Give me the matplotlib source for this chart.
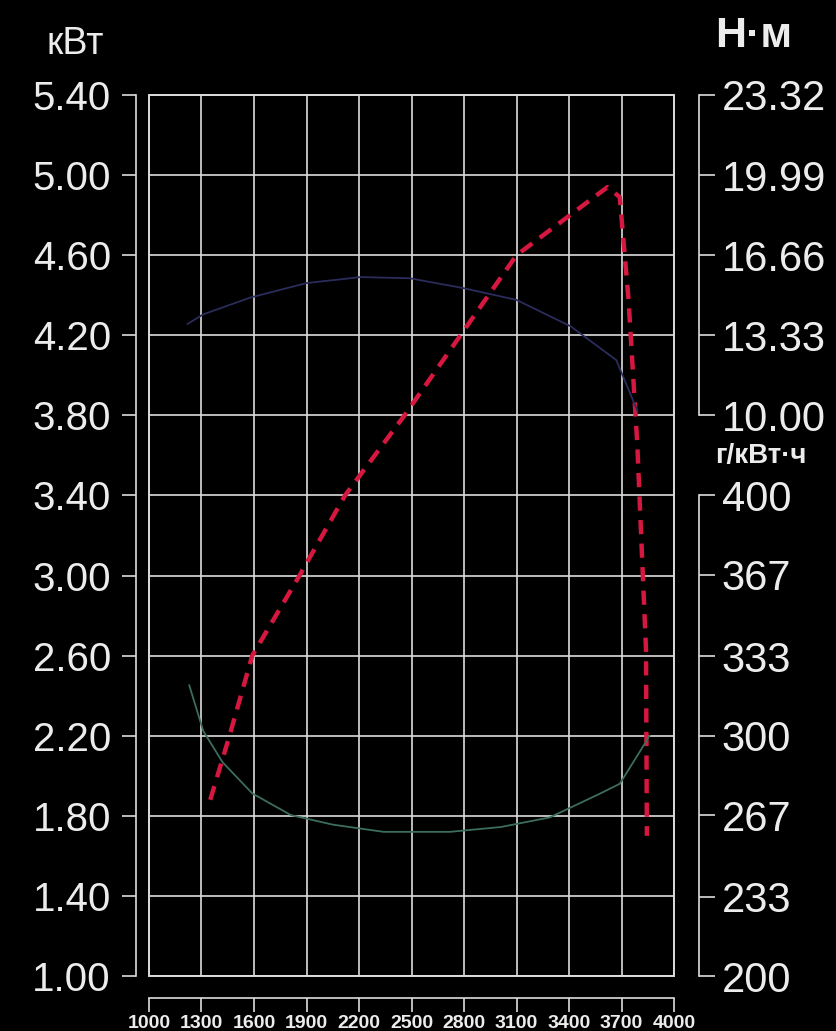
import matplotlib
matplotlib.use("Agg")
import matplotlib.pyplot as plt
from matplotlib.patches import Rectangle

fg = '#dcdcdc'
txt = '#ececec'
plt.rcParams['font.family'] = ['Liberation Sans', 'DejaVu Sans']
plt.rcParams.update({
    'text.color': txt,
    'xtick.color': fg, 'ytick.color': fg,
    'xtick.labelcolor': txt, 'ytick.labelcolor': txt,
})

# Engine speed axis
rpm_ticks = [1000, 1300, 1600, 1900, 2200, 2500, 2800, 3100, 3400, 3700, 4000]

# Power curve (kW)
power_rpm = [1350, 1460, 1590, 1860, 2120, 2460, 2780, 3100, 3620, 3690, 3740, 3790, 3840, 3845]
power_kw = [1.88, 2.20, 2.60, 3.00, 3.40, 3.80, 4.20, 4.60, 4.94, 4.89, 4.38, 3.66, 2.63, 1.70]

# Torque curve (N·m)
torque_rpm = [1220, 1310, 1580, 1900, 2210, 2490, 2790, 3100, 3410, 3670, 3790]
torque_nm = [13.8, 14.2, 14.9, 15.5, 15.75, 15.7, 15.3, 14.8, 13.7, 12.3, 10.2]

# Specific fuel consumption (g/kW·h)
bsfc_rpm = [1230, 1310, 1420, 1590, 1810, 2050, 2340, 2720, 3010, 3290, 3580, 3690, 3810, 3860]
bsfc = [321, 302, 289, 276, 267, 263, 260, 260, 262, 266, 276, 280, 294, 300]

# Axis tick values
kw_ticks = [1.00, 1.40, 1.80, 2.20, 2.60, 3.00, 3.40, 3.80, 4.20, 4.60, 5.00, 5.40]
torque_ticks = [10.00, 13.33, 16.66, 19.99, 23.32]
bsfc_ticks = [200, 233, 267, 300, 333, 367, 400]

W, H = 836, 1031
fig = plt.figure(figsize=(W / 100, H / 100), dpi=100, facecolor='black')
ax = fig.add_axes([149 / W, (H - 976) / H, 525 / W, 881 / H])
ax.set_facecolor('black')

# Power axis (left) and rpm axis (bottom)
ax.set_xlim(1000, 4000)
ax.set_ylim(1.0, 5.4)
ax.grid(True, color=fg, linewidth=1.2, zorder=1)
ax.set_axisbelow(True)
for s in ['top', 'right']:
    ax.spines[s].set_visible(False)
ax.spines['left'].set_position(('outward', 9.4))
ax.spines['bottom'].set_position(('outward', 16))
for s in ['left', 'bottom']:
    ax.spines[s].set_color(fg)
    ax.spines[s].set_linewidth(1.2)
ax.tick_params(axis='y', direction='out', length=10, width=1.2, pad=8, labelsize=29)
ax.tick_params(axis='x', direction='out', length=10, width=1.2, pad=2, labelsize=14)
ax.add_patch(Rectangle((0, 0), 1, 1, transform=ax.transAxes, fill=False,
                       edgecolor=fg, linewidth=1.4, clip_on=False, zorder=2))

# Torque axis (upper right)
ax_t = ax.twinx()
ax_t.set_ylim(10 - 2.8 * 13.32 / 1.6, 23.32)
ax_t.spines['right'].set_position(('outward', 18))
ax_t.spines['right'].set_bounds(10.0, 23.32)

# Fuel consumption axis (lower right)
ax_b = ax.twinx()
ax_b.set_ylim(200, 200 + 4.4 / 0.012)
ax_b.spines['right'].set_position(('outward', 18))
ax_b.spines['right'].set_bounds(200, 400)

for a in (ax_t, ax_b):
    for s in ['top', 'left', 'bottom']:
        a.spines[s].set_visible(False)
    a.spines['right'].set_color(fg)
    a.spines['right'].set_linewidth(1.2)
    a.tick_params(axis='y', direction='out', length=11.5, width=1.2, pad=5, labelsize=30)

# Tick positions and labels
ax.set_xticks(rpm_ticks)
ax.set_xticklabels([str(v) for v in rpm_ticks], fontweight='bold')
ax.set_yticks(kw_ticks)
ax.set_yticklabels([f'{v:.2f}' for v in kw_ticks])
ax_t.set_yticks(torque_ticks)
ax_t.set_yticklabels([f'{v:.2f}' for v in torque_ticks])
ax_b.set_yticks(bsfc_ticks)
ax_b.set_yticklabels([str(v) for v in bsfc_ticks])

ax_t.plot(torque_rpm, torque_nm, color='#2a2c5c', linewidth=1.3, zorder=3)
ax_b.plot(bsfc_rpm, bsfc, color='#3b6e5e', linewidth=1.3, zorder=3)
ax.plot(power_rpm, power_kw, color='#d6173f', linewidth=3.2, zorder=4,
        dashes=(3.2, 2.1), dash_capstyle='butt')

# Unit captions
fig.text(75 / W, 1 - 44 / H, 'кВт', fontsize=27, ha='center', va='center')
fig.text(754 / W, 1 - 36 / H, 'Н·м', fontsize=31, fontweight='bold',
         ha='center', va='center')
fig.text(761 / W, 1 - 456 / H, 'г/кВт·ч', fontsize=20, fontweight='bold',
         ha='center', va='center')

fig.savefig('out.png', dpi=100, facecolor='black')
